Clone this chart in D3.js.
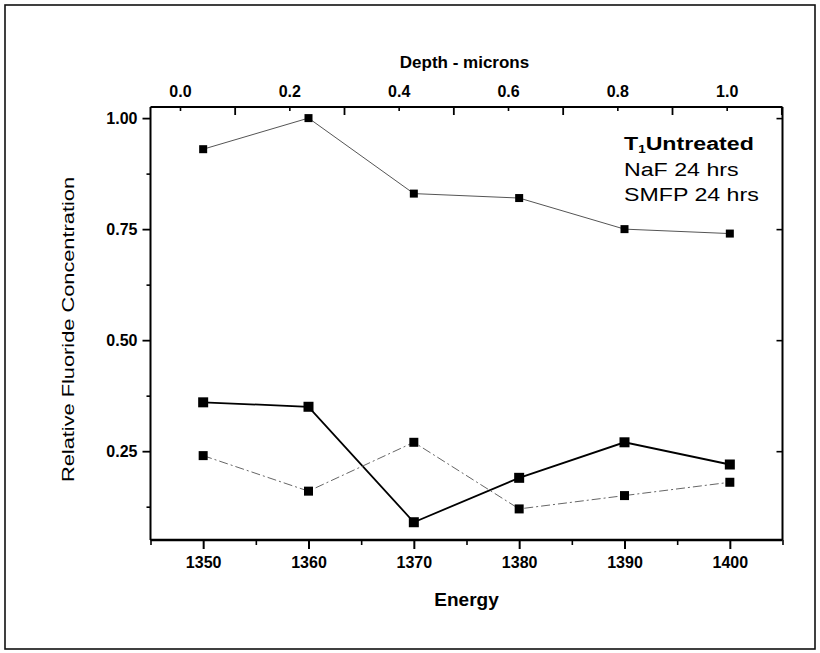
<!DOCTYPE html>
<html><head><meta charset="utf-8">
<script src="https://cdn.jsdelivr.net/npm/d3@7"></script>
<style>body{margin:0;background:#fff}svg{display:block}text{font-family:"Liberation Sans",Arial,sans-serif;fill:#000}</style>
</head><body><svg id="c" width="820" height="653"></svg>
<script>
const energies = [1350, 1360, 1370, 1380, 1390, 1400];
const untreated = [0.93, 1.00, 0.83, 0.82, 0.75, 0.74];
const naf = [0.36, 0.35, 0.09, 0.19, 0.27, 0.22];
const smfp = [0.24, 0.16, 0.27, 0.12, 0.15, 0.18];
const yTicks = [0.25, 0.50, 0.75, 1.00];
const yMinor = [0.125, 0.375, 0.625, 0.875];
const xTicks = [1350, 1360, 1370, 1380, 1390, 1400];
const xMinor = [1345, 1355, 1365, 1375, 1385, 1395, 1405];
const depthTicks = [0.0, 0.2, 0.4, 0.6, 0.8, 1.0];
const depthMinor = [0.1, 0.3, 0.5, 0.7, 0.9, 1.1];
const legendLabels = ["Untreated", "NaF 24 hrs", "SMFP 24 hrs"];

const svg = d3.select("#c");
const L = 150.5, R = 782.5, T = 107, B = 540;
const x = d3.scaleLinear().domain([1345, 1405]).range([L, R]);
const y = d3.scaleLinear().domain([0.05, 1.025]).range([B, T]);
const depth = d3.scaleLinear().domain([0, 1]).range([x(1347.8), x(1399.7)]);

// outer frame
svg.append("rect").attr("x", 5).attr("y", 5).attr("width", 810).attr("height", 644)
  .attr("fill", "none").attr("stroke", "#111").attr("stroke-width", 1.6);

// plot box
svg.append("line").attr("x1", L).attr("x2", L).attr("y1", T).attr("y2", B).attr("stroke", "#000").attr("stroke-width", 2);
svg.append("line").attr("x1", R).attr("x2", R).attr("y1", T).attr("y2", B).attr("stroke", "#000").attr("stroke-width", 2);
svg.append("line").attr("x1", L).attr("x2", R).attr("y1", B).attr("y2", B).attr("stroke", "#000").attr("stroke-width", 2.6);
svg.append("line").attr("x1", L).attr("x2", R).attr("y1", T).attr("y2", T).attr("stroke", "#000").attr("stroke-width", 2);

// bottom axis
const bAx = svg.append("g").attr("transform", `translate(0,${B})`)
  .call(d3.axisBottom(x).tickValues(xTicks).tickFormat(d3.format("d")).tickSize(9).tickPadding(8));
bAx.select(".domain").remove();
bAx.selectAll("line").attr("stroke-width", 2);
bAx.selectAll("text").attr("font-size", 16).attr("font-weight", "bold");
svg.append("g").attr("transform", `translate(0,${B})`)
  .call(d3.axisBottom(x).tickValues(xMinor).tickFormat("").tickSize(5))
  .call(g => { g.select(".domain").remove(); g.selectAll("line").attr("stroke-width", 1.6); });

// top axis (depth), ticks inward
const tAx = svg.append("g").attr("transform", `translate(0,${T})`)
  .call(d3.axisTop(depth).tickValues(depthTicks).tickFormat(d3.format(".1f")).tickSizeInner(-4).tickSizeOuter(0).tickPadding(10));
tAx.select(".domain").remove();
tAx.selectAll("line").attr("stroke-width", 1.6);
tAx.selectAll("text").attr("font-size", 16).attr("font-weight", "bold");
svg.append("g").attr("transform", `translate(0,${T})`)
  .call(d3.axisTop(depth).tickValues(depthMinor).tickFormat("").tickSizeInner(-8).tickSizeOuter(0))
  .call(g => { g.select(".domain").remove(); g.selectAll("line").attr("stroke-width", 1.8); });

// left axis
const lAx = svg.append("g").attr("transform", `translate(${L},0)`)
  .call(d3.axisLeft(y).tickValues(yTicks).tickFormat(d3.format(".2f")).tickSize(8).tickPadding(5));
lAx.select(".domain").remove();
lAx.selectAll("line").attr("stroke-width", 1.8);
lAx.selectAll("text").attr("font-size", 16).attr("font-weight", "bold");
svg.append("g").attr("transform", `translate(${L},0)`)
  .call(d3.axisLeft(y).tickValues(yMinor).tickFormat("").tickSize(4))
  .call(g => { g.select(".domain").remove(); g.selectAll("line").attr("stroke-width", 1.6); });

// right axis inward ticks
svg.append("g").attr("transform", `translate(${R},0)`)
  .call(d3.axisRight(y).tickValues(yTicks).tickFormat("").tickSize(-6))
  .call(g => { g.select(".domain").remove(); g.selectAll("line").attr("stroke-width", 1.6); });

// axis titles
svg.append("text").attr("x", (L + R) / 2).attr("y", 606).attr("text-anchor", "middle")
  .attr("font-size", 19).attr("font-weight", "bold").text("Energy");
svg.append("text").attr("x", (L + R) / 2 - 2).attr("y", 68).attr("text-anchor", "middle")
  .attr("font-size", 17).attr("font-weight", "bold").text("Depth - microns");
svg.append("text").attr("transform", `translate(74,${(T + B) / 2 + 6}) rotate(-90)`)
  .attr("text-anchor", "middle").attr("font-size", 17).attr("textLength", 305).attr("lengthAdjust", "spacingAndGlyphs")
  .text("Relative Fluoride Concentration");

// series
const series = [
  {vals: untreated, stroke: "#555", width: 1, dash: null, size: 8},
  {vals: naf, stroke: "#000", width: 1.8, dash: null, size: 10},
  {vals: smfp, stroke: "#666", width: 1, dash: "9,3,2,3", size: 9}
];
const line = d3.line().x(d => x(d[0])).y(d => y(d[1]));
series.forEach(s => {
  const pts = energies.map((e, i) => [e, s.vals[i]]);
  svg.append("path").datum(pts).attr("d", line).attr("fill", "none")
    .attr("stroke", s.stroke).attr("stroke-width", s.width).attr("stroke-dasharray", s.dash);
  svg.append("g").selectAll("rect").data(pts).join("rect")
    .attr("x", d => x(d[0]) - s.size / 2).attr("y", d => y(d[1]) - s.size / 2)
    .attr("width", s.size).attr("height", s.size).attr("fill", "#000");
});

// legend text
const lg = svg.append("g").attr("transform", "translate(624,0) scale(1.22,1)");
const t1 = lg.append("text").attr("y", 150).attr("font-size", 19).attr("font-weight", "bold");
t1.append("tspan").text("T");
t1.append("tspan").attr("font-size", 11).attr("dy", 3).text("1");
t1.append("tspan").attr("dy", -3).text(legendLabels[0]);
lg.append("text").attr("y", 176).attr("font-size", 19).text(legendLabels[1]);
lg.append("text").attr("y", 201).attr("font-size", 19).text(legendLabels[2]);
</script></body></html>
